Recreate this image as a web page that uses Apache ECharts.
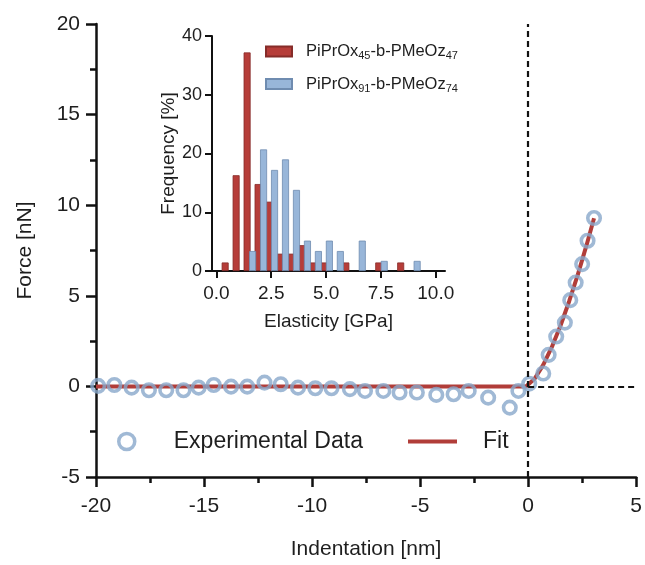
<!DOCTYPE html>
<html>
<head>
<meta charset="utf-8">
<script src="https://cdn.jsdelivr.net/npm/echarts@6/dist/echarts.min.js"></script>
<style>
html,body{margin:0;padding:0;background:#fff;}
#chart{width:645px;height:565px;}
</style>
</head>
<body>
<div id="chart"></div>
<script>
const expX = [-19.9, -19.15, -18.35, -17.55, -16.75, -15.95, -15.25, -14.55, -13.75, -13.0, -12.2, -11.45, -10.65, -9.85, -9.1, -8.25, -7.55, -6.7, -5.95, -5.15, -4.25, -3.45, -2.75, -1.85, -0.85, -0.45, 0.05, 0.7, 0.95, 1.3, 1.7, 1.95, 2.2, 2.5, 2.75, 3.05];
const expY = [0.03, 0.08, -0.07, -0.21, -0.21, -0.21, -0.07, 0.08, -0.01, -0.01, 0.21, 0.12, -0.07, -0.1, -0.1, -0.15, -0.25, -0.25, -0.34, -0.34, -0.47, -0.43, -0.25, -0.62, -1.17, -0.25, 0.15, 0.71, 1.74, 2.75, 3.52, 4.76, 5.73, 6.75, 8.04, 9.29];
// Fit curve
const fitX = [-20, -0.1, 0.3, 0.7, 1.1, 1.5, 1.9, 2.3, 2.7, 3.05];
const fitY = [0, 0, 0.42, 1.19, 2.18, 3.36, 4.7, 6.17, 7.78, 9.28];
// Inset histogram
const redName = 'PiPrOx45-b-PMeOz47';
const blueName = 'PiPrOx91-b-PMeOz74';
const redX = [0.4, 0.9, 1.4, 1.9, 2.4, 2.9, 3.4, 3.9, 4.4, 4.9, 5.9, 7.4, 8.4];
const redY = [1.45, 16.3, 37.2, 14.8, 11.8, 2.95, 2.95, 4.4, 1.45, 1.45, 1.45, 1.45, 1.45];
const blueX = [1.65, 2.15, 2.65, 3.15, 3.65, 4.15, 4.65, 5.15, 5.65, 6.65, 7.65, 9.15];
const blueY = [3.4, 20.7, 17.2, 19.0, 13.8, 5.17, 3.4, 5.17, 3.4, 5.17, 1.72, 1.72];
const insetXTicks = [0, 2.5, 5, 7.5, 10];

const FONT = "'Liberation Sans', Arial, sans-serif";
const TXT = '#1e1e1e';
const AX = '#111';
const BLUE = '#88a8cb';
const RED = '#b13d39';

const zip = (a, b) => a.map((v, i) => [v, b[i]]);

const legendRich = {
  a: {fontSize: 16.5, fontFamily: FONT, color: TXT, lineHeight: 20},
  s: {fontSize: 11, fontFamily: FONT, color: TXT, lineHeight: 11, verticalAlign: 'bottom'}
};
const legendFmt = {};
legendFmt[redName] = '{a|PiPrOx}{s|45}{a|-b-PMeOz}{s|47}';
legendFmt[blueName] = '{a|PiPrOx}{s|91}{a|-b-PMeOz}{s|74}';

const chart = echarts.init(document.getElementById('chart'), null, {renderer: 'canvas'});
chart.setOption({
  animation: false,
  backgroundColor: '#fff',
  textStyle: {fontFamily: FONT},
  grid: [
    {left: 96, right: 8, top: 24, bottom: 88, containLabel: false},
    {left: 212, top: 36, width: 233, height: 235, containLabel: false}
  ],
  xAxis: [
    {
      type: 'value', gridIndex: 0, min: -20, max: 5, interval: 5,
      name: 'Indentation [nm]', nameLocation: 'middle', nameGap: 62,
      nameTextStyle: {fontSize: 21, color: TXT, fontFamily: FONT},
      axisLine: {onZero: false, lineStyle: {color: AX, width: 2.5}},
      axisTick: {length: 10, lineStyle: {color: AX, width: 2.5}},
      minorTick: {show: true, splitNumber: 2, length: 6, lineStyle: {color: AX, width: 2.5}},
      axisLabel: {fontSize: 21, color: TXT, margin: 19, fontFamily: FONT},
      splitLine: {show: false}
    },
    {
      type: 'value', gridIndex: 1, min: -0.2, max: 10.42,
      name: 'Elasticity [GPa]', nameLocation: 'middle', nameGap: 41,
      nameTextStyle: {fontSize: 19, color: TXT, fontFamily: FONT},
      axisLine: {onZero: false, lineStyle: {color: AX, width: 2}},
      axisTick: {length: 7, customValues: insetXTicks, lineStyle: {color: AX, width: 2}},
      axisLabel: {fontSize: 19, color: TXT, margin: 13, fontFamily: FONT, customValues: insetXTicks,
        formatter: v => v.toFixed(1)},
      splitLine: {show: false}
    }
  ],
  yAxis: [
    {
      type: 'value', gridIndex: 0, min: -5, max: 20, interval: 5,
      name: 'Force [nN]', nameLocation: 'middle', nameGap: 60,
      nameTextStyle: {fontSize: 21, color: TXT, fontFamily: FONT},
      axisLine: {show: true, onZero: false, lineStyle: {color: AX, width: 2.5}},
      axisTick: {show: true, length: 10, lineStyle: {color: AX, width: 2.5}},
      minorTick: {show: true, splitNumber: 2, length: 6, lineStyle: {color: AX, width: 2.5}},
      axisLabel: {fontSize: 21, color: TXT, margin: 16, fontFamily: FONT},
      splitLine: {show: false}
    },
    {
      type: 'value', gridIndex: 1, min: 0, max: 40, interval: 10,
      name: 'Frequency [%]', nameLocation: 'middle', nameGap: 30,
      nameTextStyle: {fontSize: 19, color: TXT, fontFamily: FONT},
      axisLine: {show: true, onZero: false, lineStyle: {color: AX, width: 2}},
      axisTick: {show: true, length: 7, lineStyle: {color: AX, width: 2}},
      axisLabel: {fontSize: 18, color: TXT, margin: 10, fontFamily: FONT},
      splitLine: {show: false}
    }
  ],
  legend: [
    {
      data: ['Experimental Data'], left: 112, top: 425, orient: 'horizontal',
      itemWidth: 16, itemHeight: 16,
      itemStyle: {color: 'rgba(0,0,0,0)', borderColor: BLUE, borderWidth: 3.5},
      textStyle: {fontSize: 23, color: TXT, fontFamily: FONT, padding: [0, 0, 0, 34]},
      selectedMode: false
    },
    {
      data: ['Fit'], left: 403, top: 425, orient: 'horizontal',
      itemWidth: 49, itemHeight: 4, icon: 'rect',
      itemStyle: {color: RED, borderWidth: 0},
      textStyle: {fontSize: 23, color: TXT, fontFamily: FONT, padding: [0, 0, 0, 21]},
      selectedMode: false
    },
    {
      data: [redName, blueName], left: 260, top: 38, orient: 'vertical',
      itemWidth: 26, itemHeight: 10, itemGap: 14, icon: 'rect',
      formatter: n => legendFmt[n],
      textStyle: {rich: legendRich, padding: [0, 0, 0, 9]},
      selectedMode: false
    }
  ],
  series: [
    {
      name: 'Fit', type: 'line', xAxisIndex: 0, yAxisIndex: 0,
      data: zip(fitX, fitY), showSymbol: false, symbol: 'none', z: 2,
      lineStyle: {color: RED, width: 4}, itemStyle: {color: RED},
      markLine: {
        silent: true, symbol: 'none', label: {show: false},
        lineStyle: {color: '#111', width: 2.2, type: [6, 4]},
        data: [
          {xAxis: 0},
          [{coord: [0, 0]}, {coord: [5, 0]}]
        ]
      }
    },
    {
      name: 'Experimental Data', type: 'scatter', xAxisIndex: 0, yAxisIndex: 0,
      data: zip(expX, expY), symbol: 'circle', symbolSize: 12.5, z: 3,
      itemStyle: {color: 'rgba(0,0,0,0)', borderColor: BLUE, borderWidth: 3.6}
    },
    {
      name: redName, type: 'bar', xAxisIndex: 1, yAxisIndex: 1,
      data: zip(redX, redY), barWidth: 7, barGap: '-100%',
      itemStyle: {color: '#b63d39', borderColor: '#862c29', borderWidth: 0.8}
    },
    {
      name: blueName, type: 'bar', xAxisIndex: 1, yAxisIndex: 1,
      data: zip(blueX, blueY), barWidth: 7, barGap: '-100%',
      itemStyle: {color: '#98b6d9', borderColor: '#6f8cb0', borderWidth: 0.8}
    }
  ]
});
</script>
</body>
</html>
